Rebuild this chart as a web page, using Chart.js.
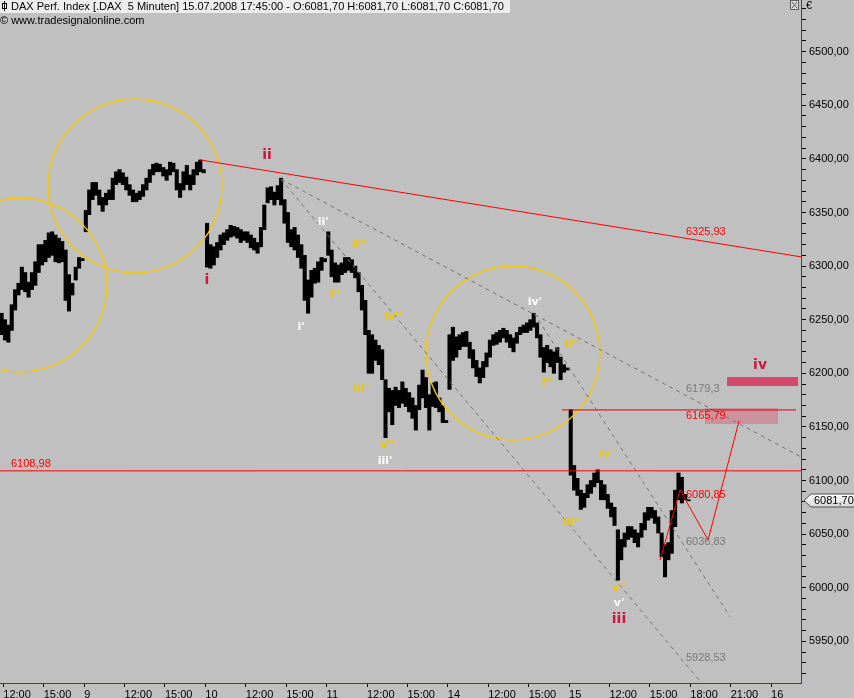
<!DOCTYPE html>
<html>
<head>
<meta charset="utf-8">
<title>DAX 5 Minuten</title>
<script src="https://cdn.jsdelivr.net/npm/chart.js@4.4.1/dist/chart.umd.min.js"></script>
<style>
    html, body { margin: 0; padding: 0; background: #C0C0C0; }
    #wrap { width: 854px; height: 698px; }
</style>
</head>
<body>
<div id="wrap"><canvas id="graficoDax" width="854" height="698"></canvas></div>
<script>
// x axis = trading hours since 08.07.2008 09:00 (9 hours per trading day)
// bars are 15 minute slots, each entry [high, low]
const firstSlot = [11, 0, 0, 0, 0, 0];

const jul08 = [[6256,6236],[6250,6231],[6245,6229],[6264,6240],[6278,6259],[6284,6273],[6299,6278],[6294,6276],[6285,6271],
    [6294,6278],[6304,6282],[6320,6294],[6320,6301],[6324,6304],[6331,6308],[6332,6310],[6329,6304],[6326,6303],[6323,6304],
    [6315,6268],[6292,6258],[6284,6273],[6299,6287],[6308,6298],[6307,6305]];

const jul09 = [[6352,6332],[6371,6348],[6378,6362],[6378,6366],[6371,6357],[6364,6351],[6368,6357],[6371,6362],[6382,6362],
    [6388,6376],[6390,6378],[6387,6376],[6383,6371],[6376,6366],[6371,6360],[6368,6360],[6370,6362],[6376,6365],[6382,6371],
    [6390,6378],[6395,6385],[6396,6388],[6395,6388],[6392,6384],[6390,6380],[6397,6385],[6396,6388],[6390,6371],[6377,6364],
    [6388,6371],[6394,6376],[6385,6371],[6390,6376],[6397,6385],[6399,6388],[6390,6387]];

const jul10 = [[6340,6299],[6320,6298],[6318,6301],[6322,6308],[6329,6315],[6331,6320],[6334,6324],[6338,6327],[6337,6328],
    [6336,6326],[6334,6322],[6332,6324],[6332,6322],[6329,6317],[6326,6315],[6322,6312],[6336,6318],[6357,6334],[6373,6359],
    [6374,6362],[6369,6357],[6375,6362],[6382,6357],[6362,6340],[6350,6322],[6334,6318],[6336,6315],[6329,6308],[6320,6298],
    [6310,6268],[6287,6256],[6296,6271],[6298,6284],[6304,6285],[6308,6296],[6307,6304]];

const jul11 = [[6332,6310],[6315,6290],[6303,6285],[6301,6285],[6303,6292],[6308,6294],[6308,6296],[6306,6294],[6300,6289],
    [6294,6276],[6282,6259],[6268,6236],[6240,6200],[6236,6200],[6231,6212],[6226,6208],[6222,6194],[6194,6140],[6186,6164],
    [6184,6152],[6187,6170],[6184,6168],[6192,6172],[6186,6169],[6182,6164],[6177,6158],[6170,6147],[6189,6166],[6203,6177],
    [6196,6168],[6180,6147],[6191,6169],[6192,6168],[6177,6164],[6170,6154],[6156,6154]];

const jul14 = [[6236,6185],[6243,6212],[6234,6215],[6236,6222],[6238,6225],[6239,6225],[6229,6214],[6222,6205],[6212,6197],
    [6205,6191],[6211,6196],[6219,6206],[6231,6215],[6236,6226],[6238,6227],[6240,6229],[6242,6233],[6240,6229],[6236,6224],
    [6233,6220],[6238,6228],[6243,6236],[6245,6238],[6247,6238],[6250,6240],[6256,6243],[6247,6233],[6236,6215],[6224,6201],
    [6226,6210],[6222,6206],[6220,6200],[6224,6210],[6215,6194],[6208,6201],[6205,6203]];

const jul15 = [[6166,6105],[6114,6091],[6102,6086],[6091,6073],[6088,6075],[6096,6084],[6100,6088],[6107,6094],[6110,6098],
    [6100,6082],[6096,6082],[6087,6074],[6079,6066],[6075,6058],[6054,6007],[6045,6026],[6051,6038],[6057,6045],[6057,6047],
    [6054,6042],[6051,6038],[6060,6047],[6070,6054],[6075,6063],[6075,6065],[6072,6060],[6066,6051],[6051,6029],[6040,6010],
    [6042,6026],[6072,6032],[6091,6057],[6107,6082],[6103,6079],[6087,6082],[6082,6081]];

const days = [jul08, jul09, jul10, jul11, jul14, jul15];

const xTickLabels = ["12:00", "15:00", "9", "12:00", "15:00", "10", "12:00", "15:00", "11", "12:00", "15:00",
    "14", "12:00", "15:00", "15", "12:00", "15:00", "18:00", "21:00", "16"];

const lastPrice = 6081.70;

// drawings, points as [hour, price]
const redTrend = [[17.61, 6399], [62.22, 6308.6]];
const greyLines = [
    [[23.62, 6381], [62.22, 6122]],
    [[23.62, 6381], [55.5, 5901]],
    [[42.4, 6256], [56.95, 5973]]
];
const projection = [[51.75, 6025.8], [53.24, 6091.1], [55.32, 6044.5], [57.62, 6155.5]];
const supportLine = 6108.98;
const targetLine = { level: 6165.79, from: 44.48, to: 61.85 };
const targetZone = { from: 55.09, to: 60.51, low: 6152.7, high: 6167.6 };
const waveIvZone = { from: 56.73, to: 62.0, low: 6188.1, high: 6196.5 };
const circles = [[4.24, 6282.4], [12.78, 6374.7], [40.84, 6218.9]];

const priceTags = [
    ["6325,93", 53.68, 6325.93, "red", -1],
    ["6179,3", 53.68, 6179.3, "grey", -1],
    ["6165,79", 53.68, 6165.79, "red", 1],
    ["6080,85", 53.68, 6080.85, "red", -1],
    ["6036,83", 53.68, 6036.83, "grey", -1],
    ["5928,53", 53.68, 5928.53, "grey", -1],
    ["6108,98", 3.57, 6108.98, "red", -1]
];

const wavesMain = [["i", 18.12, 6287], ["ii", 22.58, 6403], ["iii", 48.71, 5970], ["iv", 59.18, 6207]];
const wavesMinor = [["i'", 25.10, 6243], ["ii'", 26.74, 6341], ["iii'", 31.34, 6118], ["iv'", 42.47, 6266], ["v'", 48.71, 5986]];
const wavesSub = [["i''", 27.62, 6273], ["ii''", 29.41, 6320], ["iii''", 29.63, 6186], ["iv''", 31.93, 6252],
    ["v''", 31.49, 6133], ["i''", 43.36, 6191], ["ii''", 45.22, 6226], ["iii''", 45.22, 6060], ["iv''", 47.89, 6125],
    ["v''", 48.71, 6000]];

const bars = [];
days.forEach((slots, d) => {
    slots.forEach((hl, i) => {
        const slot = firstSlot[d] + i;
        bars.push({ x: 9 * d + 0.25 * slot + 0.125, y: [hl[1], hl[0]] });
    });
});

const FONT = "'Liberation Sans', Arial, sans-serif";
const WAVE_FONT = "'DejaVu Sans', sans-serif";

const zeichnungen = {
    id: "zeichnungen",
    beforeDraw(chart) {
        const ctx = chart.ctx;
        ctx.save();
        ctx.fillStyle = "#C0C0C0";
        ctx.fillRect(0, 0, chart.width, chart.height);
        ctx.restore();
    },
    afterDatasetsDraw(chart) {
        const ctx = chart.ctx;
        const xs = chart.scales.x;
        const ys = chart.scales.y;
        const px = u => xs.getPixelForValue(u);
        const py = p => ys.getPixelForValue(p);
        const area = chart.chartArea;

        ctx.save();
        ctx.beginPath();
        ctx.rect(area.left, area.top, area.right - area.left, area.bottom - area.top);
        ctx.clip();

        // zones
        ctx.fillStyle = "#C9929D";
        ctx.fillRect(px(targetZone.from), py(targetZone.high), px(targetZone.to) - px(targetZone.from), py(targetZone.low) - py(targetZone.high));
        ctx.fillStyle = "#D4496B";
        ctx.fillRect(px(waveIvZone.from), py(waveIvZone.high), px(waveIvZone.to) - px(waveIvZone.from), py(waveIvZone.low) - py(waveIvZone.high));

        // circles
        ctx.strokeStyle = "#F5C800";
        ctx.lineWidth = 1.4;
        circles.forEach(c => {
            ctx.beginPath();
            ctx.arc(px(c[0]), py(c[1]), 87, 0, Math.PI * 2);
            ctx.stroke();
        });
        ctx.lineWidth = 1;

        const polyline = (pts, color, dash) => {
            ctx.strokeStyle = color;
            ctx.setLineDash(dash);
            ctx.beginPath();
            pts.forEach((p, i) => {
                if (i === 0) ctx.moveTo(px(p[0]), py(p[1]));
                else ctx.lineTo(px(p[0]), py(p[1]));
            });
            ctx.stroke();
            ctx.setLineDash([]);
        };

        greyLines.forEach(l => polyline(l, "#747474", [4, 4]));
        polyline(redTrend, "#FF0000", []);
        polyline([[xs.min, supportLine], [xs.max, supportLine]], "#FF0000", []);
        polyline([[targetLine.from, targetLine.level], [targetLine.to, targetLine.level]], "#E00000", []);
        polyline(projection, "#FF0000", []);

        // price tags
        ctx.font = "11px " + FONT;
        ctx.textAlign = "left";
        priceTags.forEach(t => {
            ctx.fillStyle = t[3] === "red" ? "#FF0000" : "#7A7A7A";
            ctx.textBaseline = t[4] < 0 ? "bottom" : "top";
            ctx.fillText(t[0], px(t[1]), py(t[2]) + (t[4] < 0 ? -1 : 1));
        });

        // wave counts
        ctx.textAlign = "center";
        ctx.textBaseline = "middle";
        ctx.font = "bold 14px " + WAVE_FONT;
        ctx.fillStyle = "#D2143C";
        wavesMain.forEach(w => ctx.fillText(w[0], px(w[1]), py(w[2])));
        ctx.font = "bold 11px " + WAVE_FONT;
        ctx.fillStyle = "#FFFFFF";
        wavesMinor.forEach(w => ctx.fillText(w[0], px(w[1]), py(w[2])));
        ctx.fillStyle = "#F0C800";
        wavesSub.forEach(w => ctx.fillText(w[0], px(w[1]), py(w[2])));

        ctx.restore();
    },
    afterDraw(chart) {
        const ctx = chart.ctx;
        const ys = chart.scales.y;
        ctx.save();

        // header
        ctx.fillStyle = "#EDEDED";
        ctx.fillRect(0, 0, 510, 13);
        ctx.strokeStyle = "#000";
        ctx.lineWidth = 1;
        ctx.beginPath();
        ctx.moveTo(4.5, 1); ctx.lineTo(4.5, 11);
        ctx.stroke();
        ctx.strokeRect(2.5, 3.5, 4, 5);
        ctx.fillStyle = "#000";
        ctx.font = "11px " + FONT;
        ctx.textAlign = "left";
        ctx.textBaseline = "middle";
        ctx.fillText("DAX Perf. Index [.DAX  5 Minuten] 15.07.2008 17:45:00 - O:6081,70 H:6081,70 L:6081,70 C:6081,70", 11, 7);
        ctx.fillText("\u00A9 www.tradesignalonline.com", 0, 21);

        // window buttons
        ctx.fillStyle = "#D8D8D8";
        ctx.fillRect(790, 0, 9, 10);
        ctx.strokeStyle = "#606060";
        ctx.strokeRect(790.5, 0.5, 8, 9);
        ctx.beginPath();
        ctx.moveTo(792, 2); ctx.lineTo(797, 8);
        ctx.moveTo(797, 2); ctx.lineTo(792, 8);
        ctx.stroke();
        ctx.fillStyle = "#000";
        ctx.fillText("\u20AC", 806, 6);

        // last price tag on the axis
        const y = Math.round(ys.getPixelForValue(lastPrice)) + 0.5;
        const grad = ctx.createLinearGradient(0, y - 7, 0, y + 7);
        grad.addColorStop(0, "#FFFFFF");
        grad.addColorStop(1, "#D6D6D6");
        ctx.beginPath();
        ctx.moveTo(804, y);
        ctx.lineTo(811, y - 6.5);
        ctx.lineTo(855, y - 6.5);
        ctx.lineTo(855, y + 6.5);
        ctx.lineTo(811, y + 6.5);
        ctx.closePath();
        ctx.fillStyle = grad;
        ctx.fill();
        ctx.strokeStyle = "#505050";
        ctx.stroke();
        ctx.fillStyle = "#000";
        ctx.fillText(lastPrice.toFixed(2).replace(".", ","), 814, y + 0.5);
        ctx.restore();
    }
};

new Chart(document.getElementById("graficoDax").getContext("2d"), {
    type: "bar",
    data: {
        datasets: [{
            label: "DAX",
            data: bars,
            backgroundColor: "#000000",
            borderWidth: 0,
            barThickness: 3.4
        }]
    },
    options: {
        responsive: false,
        animation: false,
        layout: { padding: 0 },
        plugins: {
            legend: { display: false },
            tooltip: { enabled: false }
        },
        scales: {
            x: {
                type: "linear",
                position: "bottom",
                min: 2.754,
                max: 62.22,
                offset: false,
                grid: { offset: false, drawOnChartArea: false, color: "#000", tickLength: 4 },
                border: { color: "#E00000", width: 1 },
                ticks: {
                    stepSize: 3,
                    autoSkip: false,
                    includeBounds: false,
                    maxRotation: 0,
                    align: "start",
                    padding: 1,
                    color: "#000",
                    font: { family: FONT, size: 11 },
                    callback: v => xTickLabels[Math.round(v / 3) - 1] || ""
                },
                afterFit(s) { s.height = 15; s.paddingLeft = 0; s.paddingRight = 0; }
            },
            y: {
                position: "right",
                min: 5911.1,
                max: 6548.2,
                grid: { drawOnChartArea: false, color: "#000", tickLength: 5 },
                border: { color: "#E00000", width: 1 },
                ticks: {
                    stepSize: 10,
                    autoSkip: false,
                    includeBounds: false,
                    padding: 3,
                    color: "#000",
                    font: { family: FONT, size: 11 },
                    callback: v => v % 50 === 0 ? v.toFixed(2).replace(".", ",") : ""
                },
                afterFit(s) { s.width = 53; s.paddingTop = 0; s.paddingBottom = 0; }
            }
        }
    },
    plugins: [zeichnungen]
});
</script>
</body>
</html>
